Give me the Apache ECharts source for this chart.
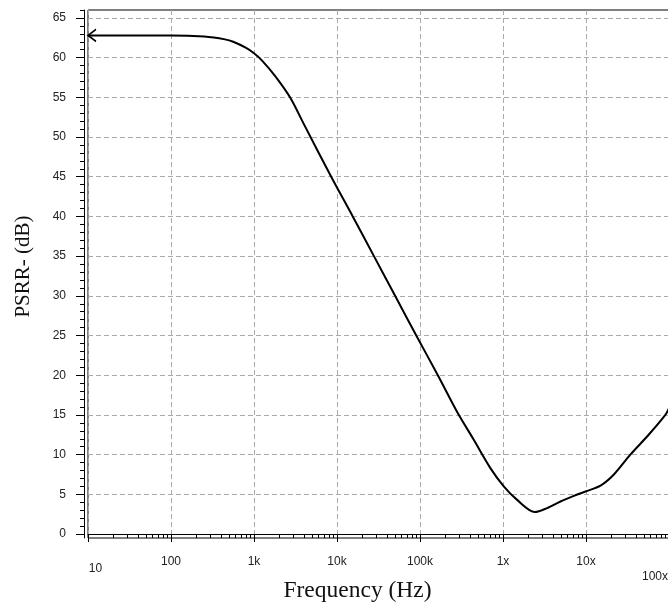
<!DOCTYPE html>
<html>
<head>
<meta charset="utf-8">
<script src="https://cdn.jsdelivr.net/npm/echarts@6/dist/echarts.min.js"></script>
<style>
  html, body { margin: 0; padding: 0; background: #fff; }
  #psrr-chart { width: 668px; height: 606px; }
</style>
</head>
<body>
<div id="psrr-chart"></div>
<script>
// PSRR- vs frequency
var freqHz = [10, 31.6, 100, 251, 447, 562, 794, 1000, 1259, 1791, 2716, 4046, 8511,
  15490, 27860, 50120, 90160, 164100, 279300, 442600, 704700, 1021000, 1479000,
  2415000, 3404000, 4932000, 7129000, 9863000, 14960000, 21680000, 34200000,
  56890000, 90360000, 100000000];
var psrrDb = [62.8, 62.8, 62.8, 62.65, 62.3, 62.0, 61.25, 60.55, 59.6, 57.7, 55.0, 51.5, 45.0,
  40.0, 35.0, 30.0, 25.0, 20.0, 15.4, 11.9, 8.3, 6.0, 4.3,
  2.77, 3.27, 4.1, 4.8, 5.36, 6.1, 7.5, 10.0,
  12.5, 15.0, 15.85];

// axis ticks
var xMajor = [10, 100, 1e3, 1e4, 1e5, 1e6, 1e7, 1e8];
var xLabels = ["10", "100", "1k", "10k", "100k", "1x", "10x", "100x"];
var xMinor = [];
for (var d = 0; d < 7; d++) {
  for (var m = 2; m <= 9; m++) {
    xMinor.push(m * Math.pow(10, d + 1));
  }
}
var yMajor = [0, 5, 10, 15, 20, 25, 30, 35, 40, 45, 50, 55, 60, 65];
var yMinor = [];
for (var v = 0; v <= 66; v++) {
  yMinor.push(v);
}

var chart = echarts.init(document.getElementById("psrr-chart"));

var seriesData = [];
for (var i = 0; i < freqHz.length; i++) {
  if (i === 0) {
    // open arrow at the left end of the curve
    seriesData.push({
      value: [freqHz[i], psrrDb[i]],
      symbol: "path://M8,0 L0,6 L8,12",
      symbolSize: [8, 12],
      symbolOffset: [4, 0],
      itemStyle: { color: "rgba(0,0,0,0)", borderColor: "#000", borderWidth: 1.5 }
    });
  } else {
    seriesData.push([freqHz[i], psrrDb[i]]);
  }
}

var gridDash = { color: "#aaaaaa", width: 1, type: [5, 3] };
var tickFont = { fontFamily: "Liberation Sans", fontSize: 12, color: "#222" };

var option = {
  animation: false,
  grid: {
    left: 88,
    right: -1,
    top: 10,
    bottom: 68,
    outerBoundsMode: "none",
    containLabel: false,
    show: true,
    borderColor: "#000",
    borderWidth: 1,
    backgroundColor: "#fff"
  },
  xAxis: [
    {
      type: "log",
      logBase: 10,
      min: 10,
      max: 1e8,
      position: "bottom",
      offset: 3,
      name: "Frequency (Hz)",
      nameLocation: "middle",
      nameGap: 38,
      nameMoveOverlap: false,
      nameTextStyle: {
        fontFamily: "Liberation Serif",
        fontSize: 23.5,
        color: "#111",
        padding: [0, 42, 0, 0]
      },
      axisLine: { show: true, lineStyle: { color: "#000", width: 1 } },
      axisTick: {
        show: true,
        customValues: xMajor,
        length: 8,
        lineStyle: { color: "#000", width: 1 }
      },
      minorTick: { show: false },
      axisLabel: {
        customValues: xMajor,
        margin: 15,
        fontFamily: "Liberation Sans",
        fontSize: 12,
        color: "#222",
        formatter: function (val) {
          var k = Math.round(Math.log10(val)) - 1;
          var txt = xLabels[k];
          if (k === 0) return "{first|" + txt + "}";
          if (k === xLabels.length - 1) return "{last|" + txt + "}";
          return "{mid|" + txt + "}";
        },
        rich: {
          first: Object.assign({ padding: [7, 0, 0, 15] }, tickFont),
          mid: Object.assign({}, tickFont),
          last: Object.assign({ padding: [15, 28, 0, 0] }, tickFont)
        }
      },
      splitLine: { show: true, lineStyle: gridDash }
    },
    {
      // minor ticks 2..9 of each decade
      type: "log",
      logBase: 10,
      min: 10,
      max: 1e8,
      position: "bottom",
      offset: 3,
      axisLine: { show: false },
      axisTick: {
        show: true,
        customValues: xMinor,
        length: 4,
        lineStyle: { color: "#000", width: 1 }
      },
      axisLabel: { show: false },
      splitLine: { show: false }
    }
  ],
  yAxis: [
    {
      type: "value",
      min: -0.5,
      max: 66,
      position: "left",
      offset: 4,
      name: "PSRR- (dB)",
      nameLocation: "middle",
      nameGap: 50,
      nameMoveOverlap: false,
      nameTextStyle: {
        fontFamily: "Liberation Serif",
        fontSize: 21,
        color: "#111",
        padding: [0, 0, 0, 15]
      },
      axisLine: { show: true, lineStyle: { color: "#000", width: 1 } },
      axisTick: {
        show: true,
        customValues: yMajor,
        length: 8,
        lineStyle: { color: "#000", width: 1 }
      },
      axisLabel: {
        customValues: yMajor,
        margin: 18,
        padding: [8, 0, 0, 0],
        fontFamily: "Liberation Sans",
        fontSize: 12,
        color: "#222"
      },
      splitLine: { show: true, lineStyle: gridDash }
    },
    {
      // minor ticks every 1 dB
      type: "value",
      min: -0.5,
      max: 66,
      position: "left",
      offset: 4,
      axisLine: { show: false },
      axisTick: {
        show: true,
        customValues: yMinor,
        length: 4,
        lineStyle: { color: "#000", width: 1 }
      },
      axisLabel: { show: false },
      splitLine: { show: false }
    }
  ],
  series: [
    {
      type: "line",
      xAxisIndex: 0,
      yAxisIndex: 0,
      data: seriesData,
      symbol: "none",
      smooth: 0.3,
      lineStyle: { color: "#000", width: 2 },
      itemStyle: { color: "#000" },
      emphasis: { disabled: true },
      silent: true
    }
  ]
};

chart.setOption(option);
</script>
</body>
</html>
